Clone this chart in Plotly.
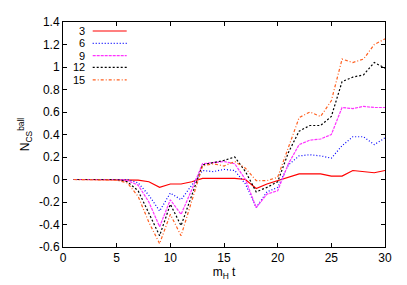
import plotly.graph_objects as go

t = list(range(1, 31))
labels = ["3", "6", "9", "12", "15"]
s3 = [0, 0, 0, 0, 0, 0, -0.005, -0.02, -0.07, -0.04, -0.04, -0.02, 0.01, 0.01, 0.01, 0.01, 0.0, -0.08, -0.04, -0.01, 0.02, 0.05, 0.05, 0.05, 0.03, 0.03, 0.08, 0.07, 0.06, 0.08]
s6 = [0, 0, 0, 0, 0, 0, -0.03, -0.14, -0.28, -0.12, -0.18, -0.05, 0.08, 0.07, 0.09, 0.08, -0.04, -0.25, -0.11, -0.07, 0.13, 0.21, 0.22, 0.21, 0.19, 0.30, 0.38, 0.38, 0.31, 0.37]
s9 = [0, 0, 0, 0, 0, -0.01, -0.05, -0.20, -0.42, -0.18, -0.31, -0.09, 0.14, 0.15, 0.16, 0.14, 0.0, -0.25, -0.13, -0.10, 0.14, 0.31, 0.35, 0.36, 0.40, 0.64, 0.63, 0.65, 0.64, 0.64]
s12 = [0, 0, 0, 0, 0, -0.02, -0.10, -0.30, -0.50, -0.22, -0.41, -0.14, 0.13, 0.15, 0.17, 0.20, 0.07, -0.11, -0.07, -0.02, 0.24, 0.43, 0.48, 0.48, 0.56, 0.87, 0.91, 0.93, 1.04, 0.99]
s15 = [0, 0, 0, 0, -0.005, -0.03, -0.15, -0.38, -0.57, -0.31, -0.50, -0.19, 0.12, 0.14, 0.12, 0.16, 0.10, -0.01, -0.01, 0.02, 0.29, 0.55, 0.60, 0.56, 0.70, 1.07, 1.04, 1.07, 1.20, 1.25]
series = [s3, s6, s9, s12, s15]

xticks = [0, 5, 10, 15, 20, 25, 30]
yticks = [-0.6, -0.4, -0.2, 0, 0.2, 0.4, 0.6, 0.8, 1, 1.2, 1.4]
ytext = ["-0.6", "-0.4", "-0.2", "0", "0.2", "0.4", "0.6", "0.8", "1", "1.2", "1.4"]

colors = ["#ff0000", "#0000ff", "#ff33ff", "#000000", "#ff6020"]
dashes = ["solid", "1px,2px", "3px,1px", "2px,2px", "3px,2px,1px,2px"]

fig = go.Figure()
for lab, ys, c, d in zip(labels, series, colors, dashes):
    fig.add_trace(go.Scatter(x=t, y=ys, mode="lines", name=lab,
                             line=dict(color=c, width=1.2, dash=d)))

# custom legend (number left of line sample, as in the reference)
row_y = [24.3, 37, 49.7, 61.7, 74.7]
for lab, ry, c, d in zip(labels, row_y, colors, dashes):
    yp = (247 - ry) / 232
    fig.add_annotation(x=(86 - 63) / 322, y=yp, xref="paper", yref="paper",
                       text=lab, showarrow=False, xanchor="right", yanchor="middle",
                       borderpad=0, font=dict(size=11, color="black"))
    fig.add_shape(type="line", xref="paper", yref="paper",
                  x0=(92.7 - 63) / 322, x1=(126.7 - 63) / 322, y0=yp, y1=yp,
                  line=dict(color=c, width=1.2, dash=d))

axis_common = dict(showline=True, linecolor="black", linewidth=1, mirror="ticks",
                   ticks="inside", ticklen=4, tickcolor="black", showgrid=False,
                   zeroline=False, tickfont=dict(size=12, color="black"))
fig.update_xaxes(range=[0, 30], tickvals=xticks, ticktext=[str(v) for v in xticks],
                 title=dict(text="m<sub>H</sub> t", font=dict(size=12, color="black"), standoff=3),
                 **axis_common)
fig.update_yaxes(range=[-0.6, 1.4], tickvals=yticks, ticktext=ytext,
                 title=dict(text="N<sub>CS</sub><sup>ball</sup>", font=dict(size=12, color="black"), standoff=6),
                 **axis_common)
# page body has an 8px margin, so the figure is sized/offset to land the plot area at the reference position
fig.update_layout(width=399, height=277, showlegend=False,
                  margin=dict(l=55, r=22, t=7, b=38),
                  plot_bgcolor="white", paper_bgcolor="white",
                  font=dict(family="Liberation Sans, Arial, sans-serif", size=12, color="black"))
fig.write_html("out.html")
